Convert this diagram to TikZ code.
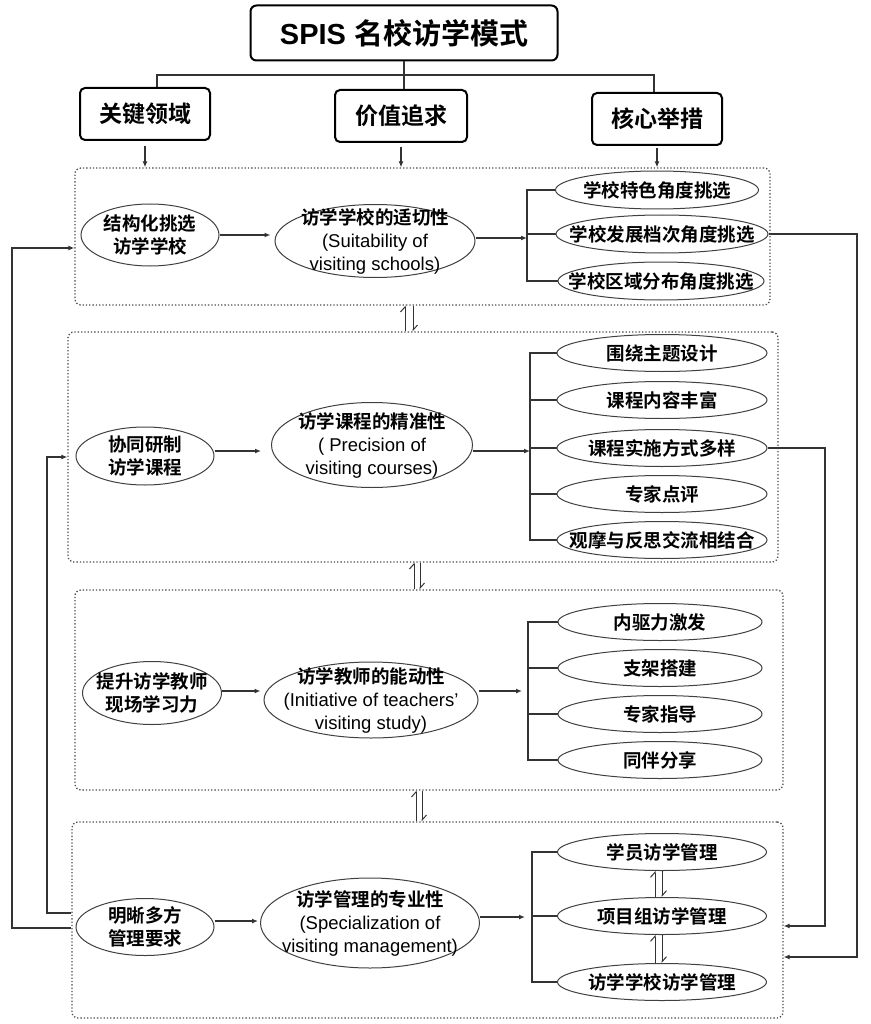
\documentclass[tikz,border=0pt]{standalone}
\usepackage{fontspec}
\setmainfont{Liberation Sans}
\newfontfamily\cjk{Noto Sans CJK SC}[BoldFont={* Bold}]
\usetikzlibrary{shapes.geometric,arrows.meta}
\newcommand\entext[1]{{\rmfamily\mdseries\fontsize{18.5}{23}\selectfont #1}}

\begin{document}
\begin{tikzpicture}[x=1pt,y=-1pt,
  hbox/.style={draw=black,line width=2pt,rounded corners=5pt,minimum width=130pt,minimum height=52pt,inner sep=0pt,font=\fontsize{23}{26}\selectfont\cjk\bfseries},
  panel/.style={draw=black!70,dotted,line width=1.3pt,rounded corners=6pt,inner sep=0pt},
  oval/.style={ellipse,draw=black!75,line width=1pt,inner xsep=-80pt,inner ysep=-30pt,align=center,font=\fontsize{18.5}{23}\selectfont\cjk\bfseries},
  pick/.style={oval,minimum height=38pt},
  link/.style={draw=black!80,line width=1.2pt},
  arr/.style={link,-{Latex[length=6pt,width=5pt]}},
  harp/.style={draw=black!80,line width=1pt,-{Straight Barb[left,length=5pt,width=9pt]}}]

\useasboundingbox (0,0) rectangle (870,1024);

\node[draw=black,line width=2pt,rounded corners=6pt,minimum width=307pt,minimum height=55pt,font=\fontsize{29}{32}\selectfont\bfseries] (title) at (404,33) {SPIS {\cjk\bfseries 名校访学模式}};

\node[hbox] (key) at (145,114) {关键领域};
\node[hbox,minimum width=132pt] (value) at (401,116) {价值追求};
\node[hbox] (core) at (657,119) {核心举措};

\coordinate (hub) at (404,75);
\draw[link] (title.south) -- (hub);
\draw[link] ([xshift=12pt]key.north) |- (hub) -| ([xshift=-3pt]core.north);
\draw[link] (hub) -- (value.north -| hub);

\node[panel,minimum width=695pt,minimum height=137pt] (p1) at (422.5,236.5) {};
\node[panel,minimum width=710pt,minimum height=230pt] (p2) at (423,447) {};
\node[panel,minimum width=708pt,minimum height=200pt] (p3) at (429,690) {};
\node[panel,minimum width=711pt,minimum height=196pt] (p4) at (427.5,920) {};

\draw[arr,shorten <=5pt] (key.south) -- (key.south |- p1.north);
\draw[arr,shorten <=4pt] (value.south) -- (value.south |- p1.north);
\draw[arr,shorten <=2pt] (core.south) -- (core.south |- p1.north);

\node[oval,minimum width=138pt,minimum height=62pt] (sel) at (150,235) {结构化挑选\\访学学校};
\node[oval,minimum width=200pt,minimum height=73pt] (suit) at (375,241) {访学学校的适切性\\\entext{(Suitability of}\\\entext{visiting schools)}};
\node[pick,minimum width=203pt] (s1) at (657,190) {学校特色角度挑选};
\node[pick,minimum width=212pt] (s2) at (662,234) {学校发展档次角度挑选};
\node[pick,minimum width=206pt] (s3) at (661,281) {学校区域分布角度挑选};
\draw[arr,shorten >=4pt] (sel.east) -- (sel.east -| suit.west);
\draw[arr] (suit.east |- 0,238) -- (527,238);
\draw[link] (s1.west) -- (527,0 |- s1.west) -- (527,0 |- s3.west) -- (s3.west);
\draw[link] (s2.west) -- (527,0 |- s2.west);

\node[oval,minimum width=138pt,minimum height=58pt] (cur) at (145,456) {协同研制\\访学课程};
\node[oval,minimum width=201pt,minimum height=85pt] (prec) at (372,445) {访学课程的精准性\\\entext{( Precision of}\\\entext{visiting courses)}};
\node[pick,minimum width=210pt,minimum height=37pt] (c1) at (662,353) {围绕主题设计};
\node[pick,minimum width=210pt,minimum height=37pt] (c2) at (662,400) {课程内容丰富};
\node[pick,minimum width=210pt,minimum height=37pt] (c3) at (662,448) {课程实施方式多样};
\node[pick,minimum width=210pt,minimum height=37pt] (c4) at (662,494) {专家点评};
\node[pick,minimum width=210pt,minimum height=37pt] (c5) at (662,540) {观摩与反思交流相结合};
\draw[arr,shorten >=10pt] (cur.east |- 0,451) -- (prec.west |- 0,451);
\draw[arr] (prec.east |- 0,451) -- (530,451);
\draw[link] (c1.west) -- (530,0 |- c1.west) -- (530,0 |- c5.west) -- (c5.west);
\draw[link] (c2.west) -- (530,0 |- c2.west);
\draw[link] (c3.west) -- (530,0 |- c3.west);
\draw[link] (c4.west) -- (530,0 |- c4.west);

\node[oval,minimum width=139pt,minimum height=63pt] (tea) at (152,693) {提升访学教师\\现场学习力};
\node[oval,minimum width=214pt,minimum height=76pt] (init) at (371,700) {访学教师的能动性\\\entext{(Initiative of teachers'}\\\entext{visiting study)}};
\node[pick,minimum width=204pt,minimum height=37pt] (t1) at (660,622) {内驱力激发};
\node[pick,minimum width=204pt,minimum height=37pt] (t2) at (660,668) {支架搭建};
\node[pick,minimum width=204pt,minimum height=37pt] (t3) at (660,714) {专家指导};
\node[pick,minimum width=204pt,minimum height=37pt] (t4) at (660,760) {同伴分享};
\draw[arr,shorten >=3pt] (tea.east |- 0,691) -- (init.west |- 0,691);
\draw[arr] (init.east |- 0,691) -- (522,691);
\draw[link] (t1.west) -- (528,0 |- t1.west) -- (528,0 |- t4.west) -- (t4.west);
\draw[link] (t2.west) -- (528,0 |- t2.west);
\draw[link] (t3.west) -- (528,0 |- t3.west);

\node[oval,minimum width=138pt,minimum height=57pt] (man) at (145,927) {明晰多方\\管理要求};
\node[oval,minimum width=219pt,minimum height=90pt] (spec) at (370,923) {访学管理的专业性\\\entext{(Specialization of}\\\entext{visiting management)}};
\node[pick,minimum width=209pt,minimum height=37pt] (m1) at (662,852) {学员访学管理};
\node[pick,minimum width=209pt,minimum height=37pt] (m2) at (662,916) {项目组访学管理};
\node[pick,minimum width=209pt,minimum height=37pt] (m3) at (662,982) {访学学校访学管理};
\draw[arr,shorten >=2pt] (man.east |- 0,921) -- (spec.west |- 0,921);
\draw[arr] (spec.east |- 0,917) -- (525,917);
\draw[link] (m1.west) -- (532,0 |- m1.west) -- (532,0 |- m3.west) -- (m3.west);
\draw[link] (m2.west) -- (532,0 |- m2.west);

\draw[harp] (655,0 |- m2.north) -- (655,0 |- m1.south);
\draw[harp] (662,0 |- m1.south) -- (662,0 |- m2.north);
\draw[harp] (655,0 |- m3.north) -- (655,0 |- m2.south);
\draw[harp] (662,0 |- m2.south) -- (662,0 |- m3.north);

\draw[harp] (405,0 |- p2.north) -- (405,0 |- p1.south);
\draw[harp] (413,0 |- p1.south) -- (413,0 |- p2.north);
\draw[harp] (414,0 |- p3.north) -- (414,0 |- p2.south);
\draw[harp] (420,0 |- p2.south) -- (420,0 |- p3.north);
\draw[harp] (416,0 |- p4.north) -- (416,0 |- p3.south);
\draw[harp] (422,0 |- p3.south) -- (422,0 |- p4.north);

\draw[arr] (s2.east) -- (857,0 |- s2.east) -- (857,957) -- (p4.east |- 0,957);
\draw[arr] (c3.east) -- (825,0 |- c3.east) -- (825,926) -- (p4.east |- 0,926);
\draw[arr] (p4.west |- 0,928) -- (12,928) -- (12,248) -- (p1.west |- 0,248);
\draw[arr] (p4.west |- 0,913) -- (47,913) -- (47,457) -- (p2.west |- 0,457);
\end{tikzpicture}
\end{document}
